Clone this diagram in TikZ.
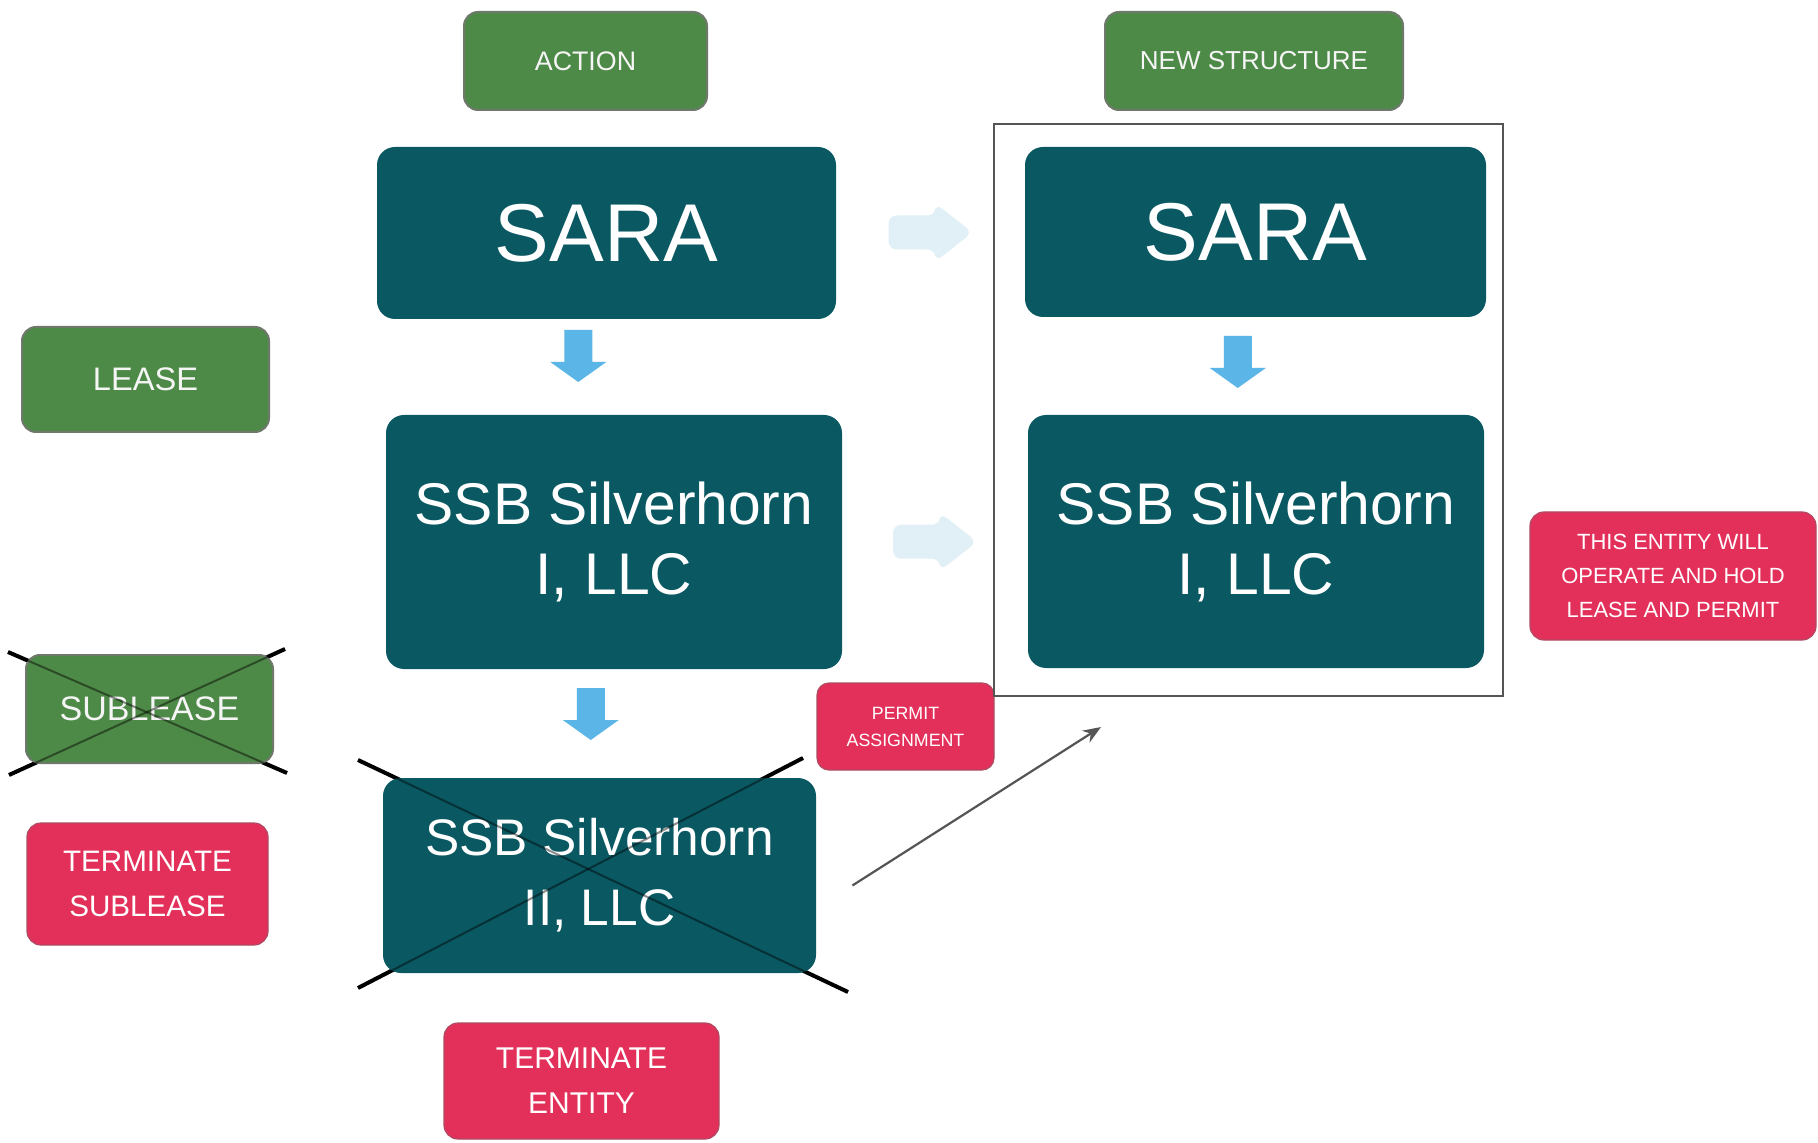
\documentclass[tikz,border=0pt]{standalone}
\usepackage{fontspec}
\setmainfont{Liberation Sans}
\usetikzlibrary{calc,arrows.meta}
\pgfdeclarelayer{background}
\pgfsetlayers{background,main}
\definecolor{tealc}{HTML}{0A5862}
\definecolor{greenc}{HTML}{4E8A47}
\definecolor{greenb}{HTML}{6E786B}
\definecolor{redc}{HTML}{E3305A}
\definecolor{redb}{HTML}{B04A62}
\definecolor{bluec}{HTML}{5BB5E6}
\definecolor{faintc}{HTML}{D2E8F4}
\definecolor{arrowgray}{HTML}{555555}
\tikzset{
  sz/.style 2 args={minimum width=#1*0.5pt, minimum height=#2*0.5pt},
  fs/.style 2 args={font=\fontsize{#1}{#2}\selectfont},
  entitybox/.style={fill=tealc, rounded corners=9pt, text=white, align=center, inner sep=0pt},
  greenbox/.style={fill=greenc, draw=greenb, line width=1pt, rounded corners=7pt, text=white!92!gray, align=center, inner sep=0pt},
  redbox/.style={fill=redc, draw=redb, line width=0.6pt, rounded corners=7pt, text=white, align=center, inner sep=0pt},
  framebox/.style={draw=arrowgray, line width=0.8pt, inner sep=0pt},
  crossout/.style={black, line width=2pt},
  crossin/.style={black, opacity=0.45, line width=1pt},
  pics/downarr/.style={code={\fill[bluec] (-14,-26) -- (14,-26) -- (14,6) -- (28,6) -- (0,26) -- (-28,6) -- (-14,6) -- cycle;}},
  pics/fadearr/.style={code={\fill[faintc, opacity=0.65, rounded corners=4pt] (-42,-17) -- (5,-17) -- (5,-29) -- (42,0) -- (5,29) -- (5,17) -- (-42,17) -- cycle;}}
}
\begin{document}
\begin{tikzpicture}[x=0.5pt, y=-0.5pt]
\useasboundingbox (0,0) rectangle (1818,1143);
\begin{pgfonlayer}{background}
\fill[white] (0,0) rectangle (1818,1143);
\end{pgfonlayer}

% headers
\node[greenbox, sz={243}{98}, fs={13.4}{16}] (action) at (585.5,61) {ACTION};
\node[greenbox, sz={298}{98}, fs={13}{16}] (newstruct) at (1254,61) {NEW STRUCTURE};

% left column
\node[entitybox, sz={459}{172}, fs={41}{49}] (saraL) at (606.5,233) {SARA};
\node[entitybox, sz={456}{254}, fs={29.4}{35}] (ssb1L) at (614,542) {SSB Silverhorn\\I, LLC};
\node[entitybox, sz={433}{195}, fs={25.7}{35}] (ssb2) at (599.5,875.5) {SSB Silverhorn\\II, LLC};
\node[redbox, sz={275}{116}, fs={15}{22.5}] (termentity) at (581.5,1081) {TERMINATE\\ENTITY};

% far left labels
\node[greenbox, sz={247}{105}, fs={16.3}{20}] (lease) at (145.5,379.5) {LEASE};
\node[greenbox, sz={247}{108}, fs={17}{20}] (sublease) at (149.5,709) {SUBLEASE};
\node[redbox, sz={241}{122}, fs={14.8}{22.5}] (termsub) at (147.5,884) {TERMINATE\\SUBLEASE};

% permit assignment
\node[redbox, sz={177}{87}, rounded corners=6pt, fs={8.9}{13.5}] (permit) at (905.5,726.5) {PERMIT\\ASSIGNMENT};

% right side
\node[framebox, sz={509}{572}] (frame) at (1248.5,410) {};
\node[entitybox, sz={461}{170}, fs={41}{49}] (saraR) at (1255.5,232) {SARA};
\node[entitybox, sz={456}{253}, fs={29.4}{35}] (ssb1R) at (1256,541.5) {SSB Silverhorn\\I, LLC};
\node[redbox, sz={286}{128}, fs={11}{17}] (thisentity) at (1673,576) {THIS ENTITY WILL\\OPERATE AND HOLD\\LEASE AND PERMIT};

% blue down arrows
\pic at ($(saraL.south)!0.5!(ssb1L.north)+(-32,-11)$) {downarr};
\pic at ($(ssb1L.south)!0.5!(ssb2.north)+(-16,-9.5)$) {downarr};
\pic at ($(saraR.south)!0.5!(ssb1R.north)+(-18,-4)$) {downarr};

% faint right arrows
\pic at ($(saraL.east)!0.5!(saraR.west)$) {fadearr};
\pic at ($(ssb1L.east)!0.5!(ssb1R.west)$) {fadearr};

% crosses
\coordinate (s2a) at (358,760);
\coordinate (s2b) at (848,992);
\coordinate (s2c) at (803,758);
\coordinate (s2d) at (358,988);
\coordinate (sla) at (8,652);
\coordinate (slb) at (287,773);
\coordinate (slc) at (285,649);
\coordinate (sld) at (9,775);
\begin{pgfonlayer}{background}
\draw[crossout] (s2a) -- (s2b);
\draw[crossout] (s2c) -- (s2d);
\draw[crossout] (sla) -- (slb);
\draw[crossout] (slc) -- (sld);
\end{pgfonlayer}
\draw[crossin] (s2a) -- (s2b);
\draw[crossin] (s2c) -- (s2d);
\draw[crossin] (sla) -- (slb);
\draw[crossin] (slc) -- (sld);

% long arrow
\coordinate (lstart) at ($(ssb2.east)+(36,10)$);
\coordinate (lend) at (1101,727);
\draw[arrowgray, line width=1.1pt, -{Stealth[length=9pt,width=7pt]}] (lstart) -- (lend);
\end{tikzpicture}
\end{document}
